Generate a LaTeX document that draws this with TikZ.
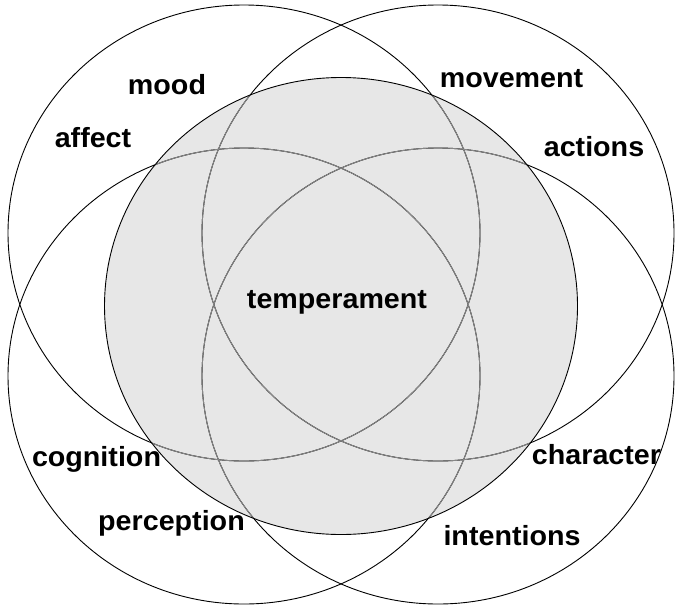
\documentclass[tikz,border=0pt]{standalone}
\usepackage{fontspec}
\setmainfont{Liberation Sans}
\definecolor{fillgray}{RGB}{231,231,231}
\definecolor{innerline}{RGB}{135,135,135}
\begin{document}
\begin{tikzpicture}[x=1pt,y=-1pt,
  ring/.style={draw=black,line width=0.9pt},
  inring/.style={draw=innerline,line width=0.9pt},
  lab/.style={anchor=base,inner sep=0pt,font=\fontsize{27.7}{33}\selectfont\bfseries}]
\useasboundingbox (0,0) rectangle (676,608);
% central shaded circle
\fill[fillgray] (341,306) ellipse [x radius=236.5pt,y radius=228.5pt];
% four outer circles
\draw[ring] (244,233) ellipse [x radius=236pt,y radius=228pt];
\draw[ring] (438,233) ellipse [x radius=236pt,y radius=228pt];
\draw[ring] (244,376) ellipse [x radius=236pt,y radius=228pt];
\draw[ring] (438,376) ellipse [x radius=236pt,y radius=228pt];
% parts inside the central circle are grey
\begin{scope}
  \clip (341,306) ellipse [x radius=236.5pt,y radius=228.5pt];
  \draw[inring] (244,233) ellipse [x radius=236pt,y radius=228pt];
  \draw[inring] (438,233) ellipse [x radius=236pt,y radius=228pt];
  \draw[inring] (244,376) ellipse [x radius=236pt,y radius=228pt];
  \draw[inring] (438,376) ellipse [x radius=236pt,y radius=228pt];
\end{scope}
\draw[ring] (341,306) ellipse [x radius=236.5pt,y radius=228.5pt];
% labels
\node[lab] (mood) at (167,94) {\scalebox{1.035}[1]{mood}};
\node[lab] (affect) at (93,147) {\scalebox{1.035}[1]{affect}};
\node[lab] (movement) at (511.5,87) {\scalebox{1.035}[1]{movement}};
\node[lab] (actions) at (594,156) {\scalebox{1.035}[1]{actions}};
\node[lab] (temperament) at (337,308) {\scalebox{1.035}[1]{temperament}};
\node[lab] (cognition) at (96.5,466) {\scalebox{1.035}[1]{cognition}};
\node[lab] (perception) at (171.5,530) {\scalebox{1.035}[1]{perception}};
\node[lab] (character) at (596.5,464) {\scalebox{1.035}[1]{character}};
\node[lab] (intentions) at (512,545) {\scalebox{1.035}[1]{intentions}};
\end{tikzpicture}
\end{document}
